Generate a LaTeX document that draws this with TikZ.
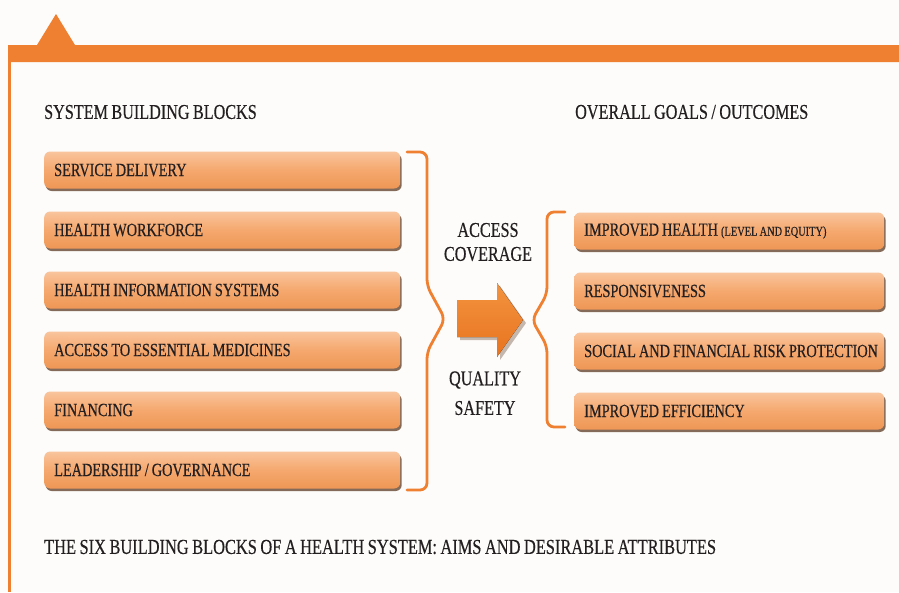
\documentclass[tikz,border=0pt]{standalone}
\usepackage{fontspec}
\setmainfont[FakeStretch=0.77, WordSpace=0.85, FakeBold=0.4]{Liberation Serif}
\usetikzlibrary{shadows}
\definecolor{orng}{HTML}{EF7F31}
\definecolor{bg}{HTML}{FDFCFA}
\definecolor{txt}{HTML}{231F20}
\definecolor{boxtop}{HTML}{F9C49C}
\definecolor{boxmid}{HTML}{F5A86E}
\definecolor{boxbot}{HTML}{EE9756}
\definecolor{shad}{HTML}{5C3A22}
\definecolor{arrtop}{HTML}{F3933F}
\definecolor{arrbot}{HTML}{E8731F}
\newcommand{\lbtext}[1]{\makebox[336pt][l]{#1}}
\newcommand{\rbtext}[1]{\makebox[290pt][l]{#1}}
\tikzset{
  boxbase/.style={rounded corners=6pt, minimum height=37pt, inner xsep=10pt, inner ysep=0pt,
    text=txt, font=\fontsize{18.6}{20}\selectfont,
    top color=boxtop, bottom color=boxbot, middle color=boxmid,
    drop shadow={shadow xshift=1.5pt, shadow yshift=-2.5pt, fill=shad, opacity=0.75}},
  lbox/.style={boxbase, anchor=west},
  rbox/.style={boxbase, anchor=west},
  head/.style={inner sep=0pt, anchor=west, text=txt, font=\fontsize{21}{24}\selectfont},
  mid/.style={inner sep=0pt, text=txt, align=center, font=\fontsize{21}{24}\selectfont},
  brace/.style={draw=orng, line width=2.8pt, rounded corners=7pt, line cap=round}
}
\begin{document}
\begin{tikzpicture}[x=1pt,y=-1pt]
\useasboundingbox (0,0) rectangle (899,592);
\fill[bg] (0,0) rectangle (899,592);
% frame
\fill[orng] (8,45) -- (37,45) -- (56,14) -- (75,45) -- (899,45) -- (899,62) -- (8,62) -- cycle;
\fill[orng] (8,62) rectangle (10.5,592);
% headers
\node[head] (hl) at (44,112) {SYSTEM BUILDING BLOCKS};
\node[head] (hr) at (575,112) {OVERALL GOALS / OUTCOMES};
\node[head, font=\fontsize{21.3}{24}\selectfont] (cap) at (44,547) {THE SIX BUILDING BLOCKS OF A HEALTH SYSTEM: AIMS AND DESIRABLE ATTRIBUTES};
% left boxes
\node[lbox] (b1) at (44,170) {\lbtext{SERVICE DELIVERY}};
\node[lbox] (b2) at (44,230) {\lbtext{HEALTH WORKFORCE}};
\node[lbox] (b3) at (44,290) {\lbtext{HEALTH INFORMATION SYSTEMS}};
\node[lbox] (b4) at (44,350) {\lbtext{ACCESS TO ESSENTIAL MEDICINES}};
\node[lbox] (b5) at (44,410) {\lbtext{FINANCING}};
\node[lbox] (b6) at (44,470) {\lbtext{LEADERSHIP / GOVERNANCE}};
% right boxes
\node[rbox] (g1) at (574,231) {\rbtext{IMPROVED HEALTH {\fontsize{13.5}{14}\selectfont (LEVEL AND EQUITY)}}};
\node[rbox] (g2) at (574,291) {\rbtext{RESPONSIVENESS}};
\node[rbox] (g3) at (574,351) {\rbtext{SOCIAL AND FINANCIAL RISK PROTECTION}};
\node[rbox] (g4) at (574,411) {\rbtext{IMPROVED EFFICIENCY}};
% braces
\draw[brace] (407,152) -- (427,152) -- (427,286) -- (445,319) -- (427,352) -- (427,490) -- (407,490);
\draw[brace] (565,212) -- (547,212) -- (547,294) -- (532,320) -- (547,346) -- (547,427) -- (565,427);
% middle texts
\node[mid] (t1) at (488,230) {ACCESS};
\node[mid] (t2) at (488,254) {COVERAGE};
\node[mid] (t3) at (485,380) {QUALITY};
\node[mid] (t4) at (485,408) {SAFETY};
% arrow
\fill[shad, opacity=0.35] (460,303) -- (500,303) -- (500,286) -- (526,323) -- (500,360) -- (500,340) -- (460,340) -- cycle;
\fill[top color=arrtop, bottom color=arrbot] (457,300) -- (497,300) -- (497,283) -- (523,320) -- (497,357) -- (497,337) -- (457,337) -- cycle;
\end{tikzpicture}
\end{document}
